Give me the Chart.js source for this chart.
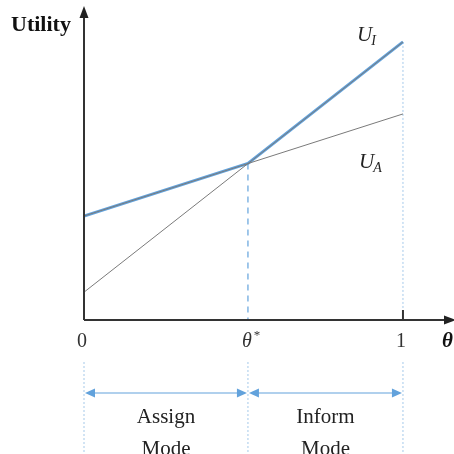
<!DOCTYPE html>
<html>
<head>
<meta charset="utf-8">
<script src="https://cdn.jsdelivr.net/npm/chart.js@4.4.0/dist/chart.umd.min.js"></script>
<style>
  html, body { margin: 0; padding: 0; background: #fff; }
  #wrap { width: 454px; height: 454px; position: relative; }
</style>
</head>
<body>
<div id="wrap"><canvas id="chart"></canvas></div>
<script>
// values
var theta = [0, 0.514, 1];            // 0, theta*, 1
var thetaLabels = ["0", "θ*", "1"];
var uA = [0.374, 0.563, 0.741];       // assign mode utility
var uI = [0.10, 0.563, 1.0];          // inform mode utility
var modes = ["Assign", "Inform"];

var BLUE = "#62a2dc";
var SERIF = "'Liberation Serif', 'DejaVu Serif', serif";

function pts(xs, ys) {
    return xs.map(function (x, i) { return { x: x, y: ys[i] }; });
}

var uBest = uA.map(function (v, i) { return Math.max(v, uI[i]); });

//Axes, guides and annotations

var decor = {
    id: "decor",
    beforeDatasetsDraw: function (chart) {
        var ctx = chart.ctx, xs = chart.scales.x, ys = chart.scales.y;
        var x0 = xs.getPixelForValue(0), xs1 = xs.getPixelForValue(theta[1]), x1 = xs.getPixelForValue(1);
        var yb = ys.getPixelForValue(0);
        ctx.save();
        // dashed guide at theta*
        ctx.strokeStyle = BLUE;
        ctx.lineWidth = 1.2;
        ctx.setLineDash([6, 5]);
        ctx.beginPath();
        ctx.moveTo(xs1, ys.getPixelForValue(uA[1]));
        ctx.lineTo(xs1, yb);
        ctx.stroke();
        // dotted guide at 1
        ctx.strokeStyle = "#a5c9ea";
        ctx.lineWidth = 1;
        ctx.setLineDash([2, 2]);
        ctx.beginPath();
        ctx.moveTo(x1, ys.getPixelForValue(uI[2]));
        ctx.lineTo(x1, yb - 10);
        ctx.stroke();
        // dotted guides below axis
        [x0, xs1, x1].forEach(function (x) {
            ctx.beginPath();
            ctx.moveTo(x, yb + 42);
            ctx.lineTo(x, 454);
            ctx.stroke();
        });
        ctx.restore();
    },
    afterDraw: function (chart) {
        var ctx = chart.ctx, xs = chart.scales.x, ys = chart.scales.y;
        var x0 = xs.getPixelForValue(0), x1 = xs.getPixelForValue(1);
        var yb = ys.getPixelForValue(0);
        var right = chart.chartArea.right, top = chart.chartArea.top;
        ctx.save();
        ctx.strokeStyle = "#333";
        ctx.fillStyle = "#222";
        ctx.lineWidth = 2;
        // y axis with arrow
        ctx.beginPath();
        ctx.moveTo(x0, yb);
        ctx.lineTo(x0, top + 8);
        ctx.stroke();
        ctx.beginPath();
        ctx.moveTo(x0, top - 2);
        ctx.lineTo(x0 - 4.5, top + 10);
        ctx.lineTo(x0 + 4.5, top + 10);
        ctx.closePath();
        ctx.fill();
        // x axis with arrow
        ctx.beginPath();
        ctx.moveTo(x0, yb);
        ctx.lineTo(right - 8, yb);
        ctx.stroke();
        ctx.beginPath();
        ctx.moveTo(right + 2, yb);
        ctx.lineTo(right - 10, yb - 4.5);
        ctx.lineTo(right - 10, yb + 4.5);
        ctx.closePath();
        ctx.fill();
        // tick at 1
        ctx.beginPath();
        ctx.moveTo(x1, yb - 10);
        ctx.lineTo(x1, yb);
        ctx.stroke();

        // axis titles
        ctx.fillStyle = "#111";
        ctx.textBaseline = "middle";
        ctx.textAlign = "left";
        ctx.font = "bold 22px " + SERIF;
        ctx.fillText("Utility", 11, 25);
        ctx.font = "bold italic 21px " + SERIF;
        ctx.fillText("θ", 442, 342);

        // tick labels
        ctx.fillStyle = "#333";
        ctx.textAlign = "center";
        theta.forEach(function (t, i) {
            var x = xs.getPixelForValue(t);
            var lab = thetaLabels[i];
            if (lab.length > 1) {
                ctx.font = "italic 20px " + SERIF;
                ctx.fillText(lab[0], x - 1, 342);
                ctx.font = "13px " + SERIF;
                ctx.fillText(lab[1], x + 9, 336);
            } else {
                ctx.font = "20px " + SERIF;
                ctx.fillText(lab, x - 2, 342);
            }
        });

        // curve labels
        function sub(main, s, x, y) {
            ctx.textAlign = "left";
            ctx.font = "italic 21px " + SERIF;
            ctx.fillText(main, x, y);
            var w = ctx.measureText(main).width;
            ctx.font = "italic 14px " + SERIF;
            ctx.fillText(s, x + w - 1, y + 6);
        }
        ctx.fillStyle = "#222";
        sub("U", "I", 357, 35);
        sub("U", "A", 359, 162);

        // mode arrows
        var ya = 393;
        ctx.strokeStyle = BLUE;
        ctx.fillStyle = BLUE;
        ctx.lineWidth = 1.2;
        function head(x, dir) {
            ctx.beginPath();
            ctx.moveTo(x, ya);
            ctx.lineTo(x - dir * 10, ya - 4.5);
            ctx.lineTo(x - dir * 10, ya + 4.5);
            ctx.closePath();
            ctx.fill();
        }
        for (var i = 0; i < 2; i++) {
            var a = xs.getPixelForValue(theta[i]) + 1, b = xs.getPixelForValue(theta[i + 1]) - 1;
            ctx.beginPath();
            ctx.moveTo(a + 5, ya);
            ctx.lineTo(b - 5, ya);
            ctx.stroke();
            head(a, -1);
            head(b, 1);
            ctx.fillStyle = "#222";
            ctx.font = "21px " + SERIF;
            ctx.textAlign = "center";
            ctx.textBaseline = "alphabetic";
            var mid = (a + b) / 2;
            ctx.fillText(modes[i], mid, 423);
            ctx.fillText("Mode", mid, 455);
            ctx.fillStyle = BLUE;
        }
        ctx.restore();
    }
};

var chart = new Chart(document.getElementById("chart"), {
    type: "scatter",
    data: {
        datasets: [
            {
                data: pts([theta[0], theta[2]], [uA[0], uA[2]]),
                showLine: true,
                borderColor: "#7a7a7a",
                borderWidth: 1,
                pointRadius: 0
            },
            {
                data: pts([theta[0], theta[2]], [uI[0], uI[2]]),
                showLine: true,
                borderColor: "#7a7a7a",
                borderWidth: 1,
                pointRadius: 0
            },
            {
                data: pts(theta, uBest),
                showLine: true,
                borderColor: BLUE,
                borderWidth: 3,
                pointRadius: 0
            }
        ]
    },
    options: {
        responsive: true,
        maintainAspectRatio: false,
        animation: false,
        layout: {
            padding: { left: 84, right: 0, top: 8, bottom: 134 }
        },
        plugins: {
            legend: { display: false },
            tooltip: { enabled: false }
        },
        scales: {
            x: { type: "linear", min: 0, max: 1.16, display: false },
            y: { type: "linear", min: 0, max: 1.122, display: false }
        }
    },
    plugins: [decor]
});
</script>
</body>
</html>
